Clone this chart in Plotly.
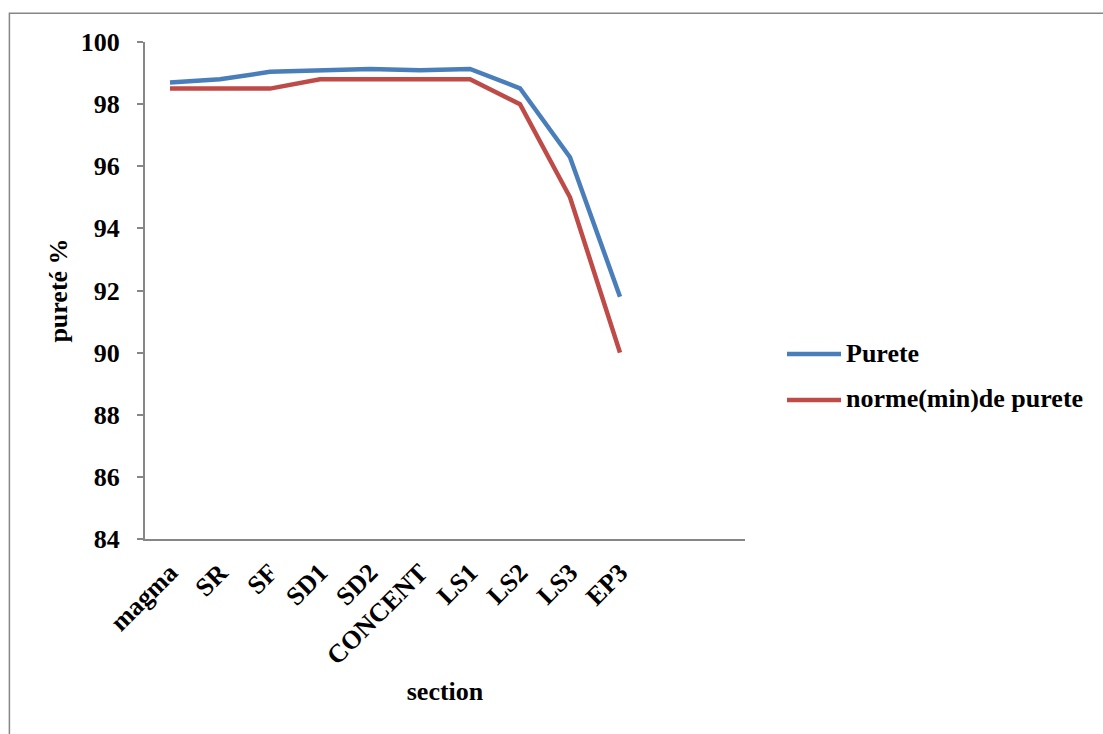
import plotly.graph_objects as go

# Sections along the process line
sections = ["magma", "SR", "SF", "SD1", "SD2", "CONCENT", "LS1", "LS2", "LS3", "EP3"]

# Measured purity and the minimum purity standard (%)
purete = [98.70, 98.80, 99.04, 99.10, 99.13, 99.09, 99.13, 98.51, 96.29, 91.80]
norme_min = [98.5, 98.5, 98.5, 98.8, 98.8, 98.8, 98.8, 98.0, 95.0, 90.0]

y_ticks = [84, 86, 88, 90, 92, 94, 96, 98, 100]

series = [
    ("Purete", purete, "#4A7EBB"),
    ("norme(min)de purete", norme_min, "#BE4B48"),
]

FONT = "Liberation Serif, Times New Roman, serif"
SIZE = 26
AXIS_GREY = "#868686"
bold = dict(family=FONT, size=SIZE, color="black", weight="bold")

fig = go.Figure()
for name, values, color in series:
    fig.add_trace(go.Scatter(
        x=sections, y=values, mode="lines", name=name,
        line=dict(color=color, width=4.5), showlegend=False,
    ))

# Legend drawn at the right of the plot: a short line plus its label
shapes = []
annotations = []
legend_rows = [0.3722, 0.2797]
for (name, _, color), yrow in zip(series, legend_rows):
    shapes.append(dict(
        type="line", xref="paper", yref="paper",
        x0=1.07, x1=1.16, y0=yrow, y1=yrow,
        line=dict(color=color, width=4.5),
    ))
    annotations.append(dict(
        xref="paper", yref="paper", x=1.165, y=yrow + 0.002,
        xanchor="left", yanchor="middle", showarrow=False,
        text=name, font=bold,
    ))

# Outer frame of the chart area
shapes.append(dict(
    type="rect", xref="paper", yref="paper",
    x0=-0.226, x1=1.62, y0=-0.42, y1=1.058,
    line=dict(color=AXIS_GREY, width=1.5), fillcolor="rgba(0,0,0,0)",
))

fig.update_layout(
    width=1103, height=734,
    margin=dict(l=145, r=358, t=42, b=195),
    paper_bgcolor="white", plot_bgcolor="white",
    font=dict(family=FONT, size=SIZE, color="black"),
    showlegend=False,
    xaxis=dict(
        type="category", categoryorder="array", categoryarray=sections,
        range=[-0.5, 11.5], showgrid=False, zeroline=False,
        showline=True, linecolor=AXIS_GREY, linewidth=2,
        ticks="", tickangle=-45, ticklabelstandoff=6,
        tickfont=bold,
        title=dict(text="section", font=bold, standoff=12),
    ),
    yaxis=dict(
        range=[84, 100], tickvals=y_ticks, showgrid=False, zeroline=False,
        showline=True, linecolor=AXIS_GREY, linewidth=2,
        ticks="outside", ticklen=6, tickcolor=AXIS_GREY, tickwidth=2,
        ticklabelstandoff=12,
        tickfont=bold,
        title=dict(text="pureté %", font=bold, standoff=6),
    ),
    shapes=shapes,
    annotations=annotations,
)

fig.write_html("out.html")
